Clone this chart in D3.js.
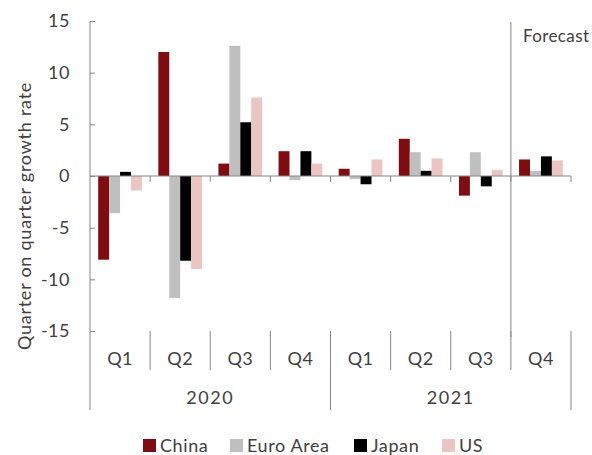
<!DOCTYPE html>
<html>
<head>
<meta charset="utf-8">
<script src="https://cdn.jsdelivr.net/npm/d3@7"></script>
<style>
  html, body { margin: 0; padding: 0; background: #fff; }
  svg { display: block; font-family: Lato, "Open Sans", sans-serif; }
</style>
</head>
<body>
<svg id="chart" width="592" height="455"></svg>
<script>
// ---- Data ----
const quarters = ["Q1", "Q2", "Q3", "Q4", "Q1", "Q2", "Q3", "Q4"];
const years = ["2020", "2021"];
const series = ["China", "Euro Area", "Japan", "US"];
const china    = [-8.1, 12.0, 1.2, 2.4, 0.7, 3.6, -1.9, 1.6];
const euroArea = [-3.6, -11.8, 12.6, -0.4, -0.3, 2.3, 2.3, 0.5];
const japan    = [0.4, -8.2, 5.2, 2.4, -0.8, 0.5, -1.0, 1.9];
const us       = [-1.4, -9.0, 7.6, 1.2, 1.6, 1.7, 0.6, 1.5];
const yTicks = [-15, -10, -5, 0, 5, 10, 15];
const forecastLabel = "Forecast";
const yTitle = "Quarter on quarter growth rate";

const seriesValues = { "China": china, "Euro Area": euroArea, "Japan": japan, "US": us };
const colors = { "China": "#7f0c10", "Euro Area": "#bfbfbf", "Japan": "#000000", "US": "#ebc5c1" };

// ---- Layout ----
const svg = d3.select("#chart");
const pLeft = 90, pRight = 571, pTop = 21, pBottom = 331;
const textColor = "#404040";
const axisColor = "#868686";

const idx = d3.range(quarters.length);
const x0 = d3.scaleBand().domain(idx).range([pLeft, pRight]).paddingInner(0).paddingOuter(0);
const x1 = d3.scaleBand().domain(series).range([0, x0.bandwidth()]).paddingInner(0).paddingOuter(0.75);
const y = d3.scaleLinear().domain([-15, 15]).range([pBottom, pTop]);

// Bars
const groups = svg.append("g").selectAll("g").data(idx).join("g")
  .attr("transform", i => `translate(${x0(i)},0)`);
groups.selectAll("rect")
  .data(i => series.map(s => ({ s, v: seriesValues[s][i] })))
  .join("rect")
  .attr("x", d => x1(d.s))
  .attr("width", x1.bandwidth())
  .attr("y", d => y(Math.max(0, d.v)))
  .attr("height", d => Math.abs(y(d.v) - y(0)))
  .attr("fill", d => colors[d.s]);

// Y axis
const yAxis = svg.append("g").attr("transform", `translate(${pLeft},0)`)
  .call(d3.axisLeft(y).tickValues(yTicks).tickSize(-5).tickPadding(20).tickFormat(d3.format("d")));
yAxis.select(".domain").attr("stroke", axisColor).attr("d", `M0,${pTop}V${pBottom}`);
yAxis.selectAll(".tick line").attr("stroke", axisColor);
yAxis.selectAll(".tick text").attr("fill", textColor).style("font-size", "18px")
  .style("font-family", "Lato, sans-serif").style("letter-spacing", "0.5px")
  .text(d => d < 0 ? "-" + Math.abs(d) : d);

// Zero category axis
const boundaries = d3.range(quarters.length + 1).map(i => pLeft + i * x0.step());
svg.append("line").attr("x1", pLeft).attr("x2", pRight).attr("y1", y(0)).attr("y2", y(0))
  .attr("stroke", axisColor).attr("stroke-width", 1);
svg.append("g").selectAll("line").data(boundaries.slice(1)).join("line")
  .attr("x1", d => d).attr("x2", d => d).attr("y1", y(0)).attr("y2", y(0) + 6)
  .attr("stroke", axisColor);

// Forecast line
const fx = boundaries[7];
svg.append("line").attr("x1", fx).attr("x2", fx).attr("y1", pTop + 1).attr("y2", pBottom + 6)
  .attr("stroke", axisColor);
svg.append("text").attr("x", fx + 12).attr("y", 42).attr("fill", textColor)
  .style("font-size", "17px").style("letter-spacing", "0.4px").text(forecastLabel);

// Multi-level category labels
svg.append("g").selectAll("line").data(boundaries).join("line")
  .attr("x1", d => d).attr("x2", d => d)
  .attr("y1", pBottom)
  .attr("y2", (d, i) => (i % 4 === 0) ? 410 : 370)
  .attr("stroke", axisColor);
svg.append("g").selectAll("text").data(idx).join("text")
  .attr("x", i => x0(i) + x0.bandwidth() / 2).attr("y", 365)
  .attr("text-anchor", "middle").attr("fill", textColor).style("font-size", "18px")
  .style("letter-spacing", "0.5px")
  .text(i => quarters[i]);
svg.append("g").selectAll("text").data(years).join("text")
  .attr("x", (d, i) => (boundaries[i * 4] + boundaries[i * 4 + 4]) / 2).attr("y", 404)
  .attr("text-anchor", "middle").attr("fill", textColor).style("font-size", "18px")
  .style("letter-spacing", "1.5px")
  .text(d => d);

// Y title
svg.append("text").attr("transform", "translate(31,216) rotate(-90)")
  .attr("text-anchor", "middle").attr("fill", textColor).style("font-size", "18px")
  .style("letter-spacing", "0.75px")
  .text(yTitle);

// Legend
const legendX = [143, 230, 354, 442];
const lg = svg.append("g").selectAll("g").data(series).join("g")
  .attr("transform", (d, i) => `translate(${legendX[i]},439)`);
lg.append("rect").attr("width", 13).attr("height", 13).attr("fill", d => colors[d]);
lg.append("text").attr("x", 17).attr("y", 12.5).attr("fill", textColor)
  .style("font-size", "18px").style("letter-spacing", "0.6px").text(d => d);
</script>
</body>
</html>
